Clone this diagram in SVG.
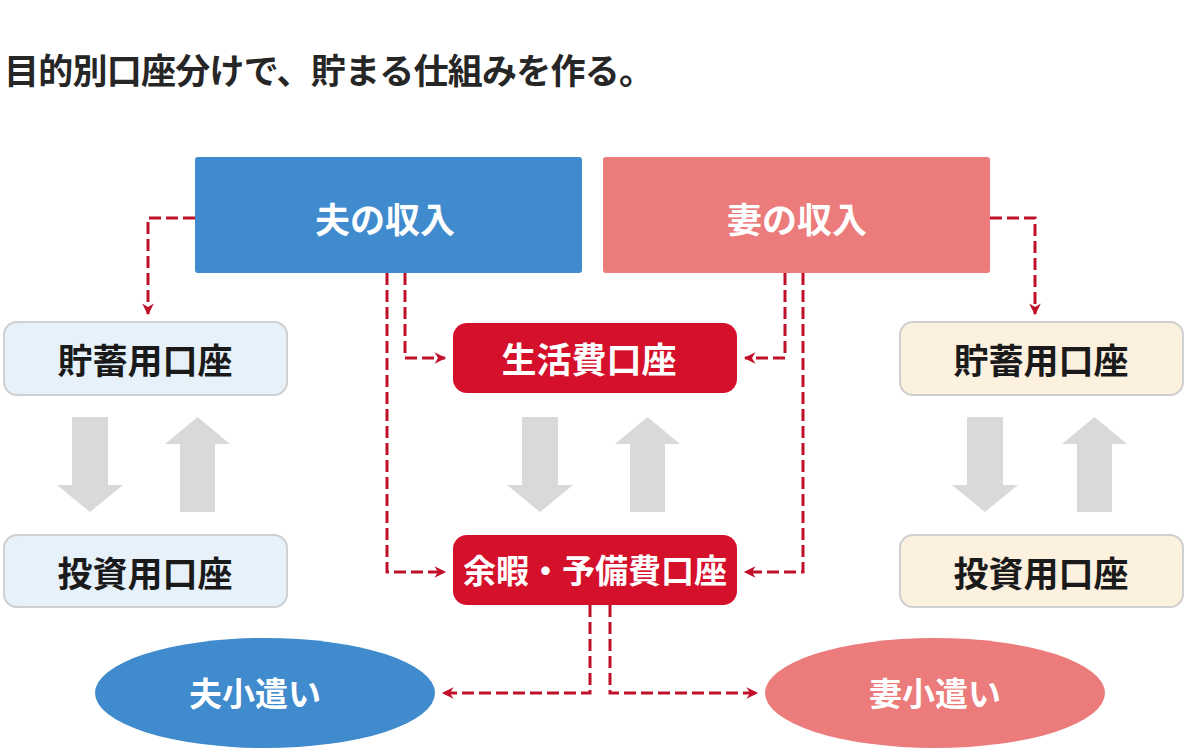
<svg xmlns="http://www.w3.org/2000/svg" width="1200" height="755" viewBox="0 0 1200 755">
<defs>
<style>
text{font-family:"Noto Sans CJK JP","Noto Sans",sans-serif;text-anchor:middle;dominant-baseline:central}
.title{font-size:35px;font-weight:700;fill:#262626;text-anchor:start;dominant-baseline:auto}
.lw{font-size:35px;font-weight:700;fill:#fff}
.lb{font-size:35px;font-weight:700;fill:#1a1a1a}
.le{font-size:33px;font-weight:700;fill:#fff}
.conn{fill:none;stroke:#c1102a;stroke-width:3;stroke-dasharray:12 5}
.gray{fill:#d9d9d9}
</style>
<marker id="ahd" viewBox="0 0 12 12" refX="10" refY="6" markerWidth="14" markerHeight="14" orient="auto" markerUnits="userSpaceOnUse">
<path d="M1,1 L11,6 L1,11 L4,6 Z" fill="#c1102a"/>
</marker>
</defs>
<rect width="1200" height="755" fill="#fff"/>
<text class="title" x="4" y="84" textLength="650" lengthAdjust="spacing">目的別口座分けで、貯まる仕組みを作る。</text>

<g id="connectors">
<path class="conn" d="M195,218 H148 V314" marker-end="url(#ahd)"/>
<path class="conn" d="M990,218 H1035 V314" marker-end="url(#ahd)"/>
<path class="conn" d="M405,273 V358 H445" marker-end="url(#ahd)"/>
<path class="conn" d="M387,273 V572 H445" marker-end="url(#ahd)"/>
<path class="conn" d="M785,273 V358 H745" marker-end="url(#ahd)"/>
<path class="conn" d="M803,273 V572 H745" marker-end="url(#ahd)"/>
<path class="conn" d="M590,605 V693 H443" marker-end="url(#ahd)"/>
<path class="conn" d="M610,605 V693 H757" marker-end="url(#ahd)"/>
</g>

<g id="gray-arrows">
<path class="gray" d="M72,417 H108 V485 H123 L90,512 L57,485 H72 Z"/>
<path class="gray" d="M180,512 H215 V444 H230 L197.5,417 L165,444 H180 Z"/>
<path class="gray" d="M522,417 H558 V485 H573 L540,512 L507,485 H522 Z"/>
<path class="gray" d="M630,512 H665 V444 H680 L647.5,417 L615,444 H630 Z"/>
<path class="gray" d="M967,417 H1003 V485 H1018 L985,512 L952,485 H967 Z"/>
<path class="gray" d="M1077,512 H1112 V444 H1127 L1094.5,417 L1062,444 H1077 Z"/>
</g>

<g id="husband-income">
<rect x="195" y="157" width="387" height="116" rx="3" fill="#3f8bcd"/>
<text class="lw" x="385" y="217">夫の収入</text>
</g>
<g id="wife-income">
<rect x="603" y="157" width="387" height="116" rx="3" fill="#ec7b7b"/>
<text class="lw" x="797" y="217">妻の収入</text>
</g>
<g id="left-savings">
<rect x="4" y="322" width="283" height="73" rx="13" fill="#e6f1fa" stroke="#cfcfcf" stroke-width="2"/>
<text class="lb" x="145" y="358">貯蓄用口座</text>
</g>
<g id="left-invest">
<rect x="4" y="535" width="283" height="72" rx="13" fill="#e6f1fa" stroke="#cfcfcf" stroke-width="2"/>
<text class="lb" x="145" y="571">投資用口座</text>
</g>
<g id="living">
<rect x="453" y="323" width="284" height="70" rx="14" fill="#d5102b"/>
<text class="lw" x="589" y="357">生活費口座</text>
</g>
<g id="leisure">
<rect x="453" y="535" width="284" height="70" rx="14" fill="#d5102b"/>
<text class="lw" x="595" y="569" style="font-size:33px">余暇・予備費口座</text>
</g>
<g id="right-savings">
<rect x="900" y="322" width="283" height="73" rx="13" fill="#fcf0df" stroke="#cfcfcf" stroke-width="2"/>
<text class="lb" x="1041" y="358">貯蓄用口座</text>
</g>
<g id="right-invest">
<rect x="900" y="535" width="283" height="72" rx="13" fill="#fcf0df" stroke="#cfcfcf" stroke-width="2"/>
<text class="lb" x="1041" y="571">投資用口座</text>
</g>
<g id="husband-pocket">
<ellipse cx="265" cy="693" rx="170" ry="55" fill="#3f8bcd"/>
<text class="le" x="255" y="692">夫小遣い</text>
</g>
<g id="wife-pocket">
<ellipse cx="935" cy="693" rx="170" ry="55" fill="#ec7b7b"/>
<text class="le" x="935" y="692">妻小遣い</text>
</g>
</svg>
